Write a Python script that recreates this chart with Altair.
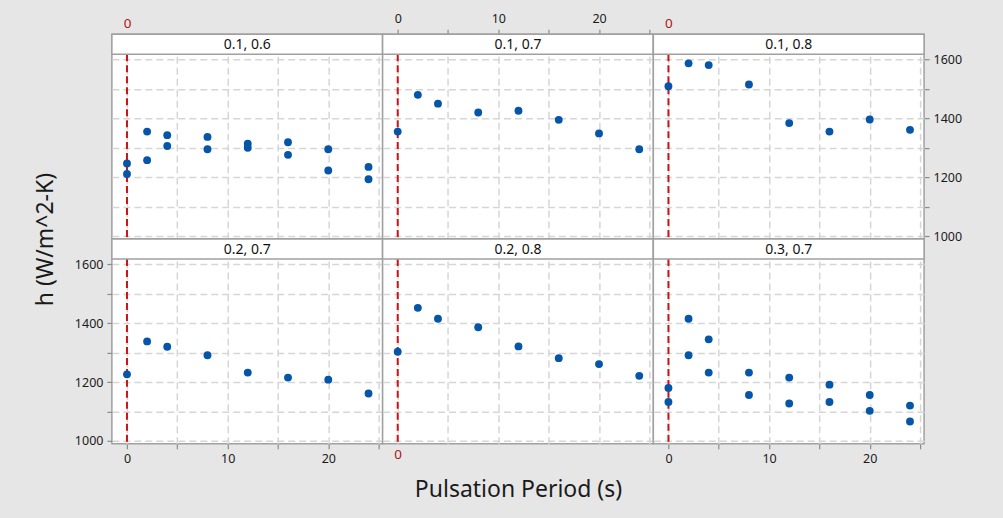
import altair as alt
import pandas as pd

# ---- data ----
periods = [0, 2, 4, 8, 12, 16, 20, 24]
panel_labels = ["0.1, 0.6", "0.1, 0.7", "0.1, 0.8", "0.2, 0.7", "0.2, 0.8", "0.3, 0.7"]

h_01_06_a = [1247, 1355, 1343, 1337, 1314, 1319, 1295, 1235]
h_01_06_b = [1211, 1258, 1306, 1295, 1300, 1276, 1223, 1193]
h_01_07 = [1355, 1480, 1450, 1420, 1426, 1395, 1349, 1295]
h_01_08 = [1509, 1587, 1581, 1515, 1384, 1355, 1396, 1361]
h_02_07 = [1226, 1338, 1320, 1291, 1232, 1215, 1208, 1161]
h_02_08 = [1303, 1452, 1415, 1386, 1321, 1281, 1261, 1221]
h_03_07_a = [1180, 1415, 1345, 1232, 1215, 1191, 1156, 1120]
h_03_07_b = [1132, 1291, 1232, 1156, 1127, 1132, 1102, 1066]

panel_series = {
    "0.1, 0.6": [h_01_06_a, h_01_06_b],
    "0.1, 0.7": [h_01_07],
    "0.1, 0.8": [h_01_08],
    "0.2, 0.7": [h_02_07],
    "0.2, 0.8": [h_02_08],
    "0.3, 0.7": [h_03_07_a, h_03_07_b],
}

x_ticks = [0, 5, 10, 15, 20, 25]
y_ticks = [1000, 1100, 1200, 1300, 1400, 1500, 1600]
ref_line = [0]

W = 271
H = 205
HEADER = 20
FONT = "Noto Sans"
RED = "#b01414"
LINE_RED = "#cc1414"
BLUE = "#0556a8"
FRAME = "#a0a0a0"
TITLE_SIZE = 23

x_scale = alt.Scale(domain=[-1.5, 25.4], nice=False, zero=False)
y_scale = alt.Scale(domain=[990, 1686], nice=False, zero=False)

grid_kw = dict(grid=True, gridColor="#d6d6d6", gridDash=[7, 4], gridWidth=1.5,
               domain=False, labelOverlap=False, labelFlush=False, format="d",
               labelFont=FONT, labelFontSize=12.5, labelColor="#1a1a1a",
               tickColor="#8c8c8c", tickSize=5, tickWidth=1.2, labelPadding=4)


def x_axis(kind, orient, title=None):
    if kind == "labels":
        return alt.Axis(orient=orient, values=x_ticks, ticks=True,
                        labelExpr="datum.value % 10 == 0 ? datum.label : ''",
                        title=title, **grid_kw)
    kw = dict(grid_kw)
    kw["labelColor"] = RED
    kw["labelFontSize"] = 13.5
    extra = {}
    if title:
        extra = dict(titleFont=FONT, titleFontSize=TITLE_SIZE, titleFontWeight="normal",
                     titleColor="#1a1a1a", titlePadding=17)
    return alt.Axis(orient=orient, values=x_ticks, ticks=False,
                    labelExpr="datum.value == 0 ? '0' : ''",
                    title=title, **kw, **extra)


def y_axis(kind, orient="left", title=None):
    if kind == "labels":
        extra = {}
        if title:
            extra = dict(titleFont=FONT, titleFontSize=TITLE_SIZE, titleFontWeight="normal",
                         titleColor="#1a1a1a", titleX=-54, titleY=0)
        return alt.Axis(orient=orient, values=y_ticks, ticks=True,
                        labelExpr="datum.value % 200 == 0 ? datum.label : ''",
                        title=title, **grid_kw, **extra)
    return alt.Axis(orient=orient, values=y_ticks, ticks=False, labels=False,
                    title=None, **grid_kw)


panel_axes = [
    (x_axis("red", "top"), y_axis("none")),
    (x_axis("labels", "top"), y_axis("none")),
    (x_axis("red", "top"), y_axis("labels", "right")),
    (x_axis("labels", "bottom"), y_axis("labels", "left", "h (W/m^2-K)")),
    (x_axis("red", "bottom", "Pulsation Period (s)"), y_axis("none")),
    (x_axis("labels", "bottom"), y_axis("none")),
]

charts = []
for label, (xa, ya) in zip(panel_labels, panel_axes):
    rows = []
    for series in panel_series[label]:
        for p, h in zip(periods, series):
            rows.append({"period": p, "h": h})
    df = pd.DataFrame(rows)
    xenc = alt.X("period:Q", scale=x_scale, axis=xa)
    yenc = alt.Y("h:Q", scale=y_scale, axis=ya)

    pts = alt.Chart(df).mark_circle(size=62, color=BLUE, opacity=1).encode(x=xenc, y=yenc)
    rule = alt.Chart(pd.DataFrame({"period": ref_line})).mark_rule(
        color=LINE_RED, strokeDash=[7, 4], strokeWidth=2
    ).encode(x=xenc, y=alt.value(HEADER), y2=alt.value(H))
    hdr_df = pd.DataFrame({"label": [label]})
    hdr = alt.Chart(hdr_df).mark_rect(fill="white", stroke=FRAME, strokeWidth=1.5).encode(
        x=alt.value(0), x2=alt.value(W), y=alt.value(0), y2=alt.value(HEADER))
    txt = alt.Chart(hdr_df).mark_text(font=FONT, fontSize=14, color="#111111",
                                      baseline="middle", align="center").encode(
        x=alt.value(W / 2), y=alt.value(HEADER / 2 + 1), text="label:N")
    charts.append(alt.layer(rule, pts, hdr, txt).properties(width=W, height=H))

chart = alt.concat(*charts, columns=3, spacing=0, bounds="flush").properties(
    padding={"left": 34, "top": 11, "right": 40, "bottom": 16},
    background="#e6e6e6",
).configure_view(fill="white", stroke=FRAME, strokeWidth=1.5)

chart.save("out.html", embed_options={"renderer": "svg", "actions": False})
